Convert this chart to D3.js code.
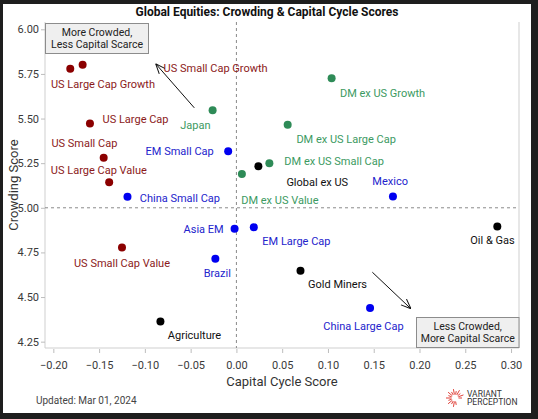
<!DOCTYPE html>
<html>
<head>
<meta charset="utf-8">
<script src="https://cdn.jsdelivr.net/npm/d3@7"></script>
<style>
  html, body { margin: 0; padding: 0; background: #1e1e1e; }
  svg { display: block; font-family: Roboto, "Noto Sans", sans-serif; }
</style>
</head>
<body>
<svg id="chart" width="538" height="419"></svg>
<script>
// ---- data ----
const names = ["US Small Cap Growth", "US Large Cap Growth", "US Large Cap", "US Small Cap", "US Large Cap Value",
  "US Small Cap Value", "Japan", "DM ex US Growth", "DM ex US Large Cap", "DM ex US Small Cap", "DM ex US Value",
  "Global ex US", "EM Small Cap", "China Small Cap", "Mexico", "Asia EM", "EM Large Cap", "Brazil",
  "China Large Cap", "Oil & Gas", "Gold Miners", "Agriculture"];
const capitalCycle = [-0.168, -0.1815, -0.160, -0.145, -0.139, -0.125, -0.026, 0.104, 0.056, 0.036, 0.006,
  0.024, -0.009, -0.119, 0.171, -0.002, 0.019, -0.023, 0.146, 0.285, 0.070, -0.083];
const crowding = [5.801, 5.779, 5.472, 5.280, 5.143, 4.778, 5.547, 5.726, 5.465, 5.250, 5.190,
  5.233, 5.317, 5.062, 5.063, 4.882, 4.891, 4.714, 4.438, 4.895, 4.647, 4.363];
const groups = ["US", "US", "US", "US", "US", "US", "DM", "DM", "DM", "DM", "DM",
  "Global", "EM", "EM", "EM", "EM", "EM", "EM", "EM", "Sector", "Sector", "Sector"];
const xTicks = [-0.20, -0.15, -0.10, -0.05, 0.00, 0.05, 0.10, 0.15, 0.20, 0.25, 0.30];
const yTicks = [4.25, 4.50, 4.75, 5.00, 5.25, 5.50, 5.75, 6.00];

// ---- label placement (pixel offsets from point) ----
const labelOffsets = {
  "US Small Cap Growth": [81, 3.4], "US Large Cap Growth": [-19.3, 15], "US Large Cap": [12.6, -4.7],
  "US Small Cap": [-52.3, -15], "US Large Cap Value": [-58.3, -12.4], "US Small Cap Value": [-48, 15.7],
  "Japan": [-32.3, 15], "DM ex US Growth": [8.3, 14.6], "DM ex US Large Cap": [8.7, 14.7],
  "DM ex US Small Cap": [15, -1.7], "DM ex US Value": [-0.7, 26.7], "Global ex US": [28, 16],
  "EM Small Cap": [-82.6, 0.3], "China Small Cap": [12.3, 1.7], "Mexico": [-20.6, -15],
  "Asia EM": [-51, 0], "EM Large Cap": [8.5, 14], "Brazil": [-11.6, 14.4], "China Large Cap": [-46.7, 18.3],
  "Oil & Gas": [-27, 14], "Gold Miners": [7.6, 13.7], "Agriculture": [7.4, 14]
};
const dotColor = { US: "#8b0000", DM: "#2e8b57", EM: "#0000f0", Global: "#000000", Sector: "#000000" };
const textColor = { US: "#8b1a1a", DM: "#3c9a62", EM: "#2323cc", Global: "#111111", Sector: "#111111" };

const svg = d3.select("#chart");
svg.append("rect").attr("x", 3).attr("y", 4).attr("width", 528).attr("height", 409).attr("fill", "#fff");

const L = 45, R = 519, T = 22, B = 348;
const x = d3.scaleLinear().domain([-0.2091, 0.3087]).range([L, R]);
const y = d3.scaleLinear().domain([4.2145, 6.0409]).range([B, T]);

// panel borders (left, bottom, right)
svg.append("path").attr("d", `M${L},${T}V${B}H${R}V${T}`).attr("fill", "none").attr("stroke", "#cfcfcf").attr("stroke-width", 1);

// axes
const xAxis = svg.append("g").attr("transform", `translate(0,${B + 1})`)
  .call(d3.axisBottom(x).tickValues(xTicks).tickFormat(d3.format(".2f")).tickSize(4).tickSizeOuter(0));
const yAxis = svg.append("g").attr("transform", `translate(${L},0)`)
  .call(d3.axisLeft(y).tickValues(yTicks).tickFormat(d3.format(".2f")).tickSize(4).tickSizeOuter(0));
[xAxis, yAxis].forEach(g => {
  g.select(".domain").remove();
  g.selectAll(".tick line").attr("stroke", "#bdbdbd");
  g.selectAll(".tick text").attr("fill", "#3a3a3a").attr("font-size", 11).attr("font-family", "Roboto, sans-serif");
});
xAxis.selectAll(".tick text").attr("dy", "1.15em");
yAxis.selectAll(".tick text").attr("x", -6);

// reference lines
svg.append("line").attr("x1", x(0)).attr("x2", x(0)).attr("y1", T).attr("y2", B)
  .attr("stroke", "#8a8a8a").attr("stroke-dasharray", "3,3");
svg.append("line").attr("x1", L).attr("x2", R).attr("y1", y(5)).attr("y2", y(5))
  .attr("stroke", "#8a8a8a").attr("stroke-dasharray", "3,3");

// arrows
const defs = svg.append("defs");
defs.append("marker").attr("id", "ah").attr("viewBox", "0 0 10 10").attr("refX", 10).attr("refY", 5)
  .attr("markerWidth", 10).attr("markerHeight", 10).attr("markerUnits", "userSpaceOnUse").attr("orient", "auto")
  .append("path").attr("d", "M0,1 L10,5 L0,9").attr("fill", "none").attr("stroke", "#111").attr("stroke-width", 1);
const arrows = [[-0.046, 5.560, -0.0882, 5.807], [0.1485, 4.639, 0.1907, 4.434]];
arrows.forEach(a => {
  svg.append("line").attr("x1", x(a[0])).attr("y1", y(a[1])).attr("x2", x(a[2])).attr("y2", y(a[3]))
    .attr("stroke", "#111").attr("stroke-width", 1).attr("marker-end", "url(#ah)");
});

// quadrant boxes
function qbox(bx, by, w, h, lines) {
  svg.append("rect").attr("x", bx).attr("y", by).attr("width", w).attr("height", h)
    .attr("fill", "#efefef").attr("stroke", "#8c8c8c").attr("stroke-width", 1);
  lines.forEach((t, i) => {
    svg.append("text").attr("x", bx + w / 2).attr("y", by + 9 + i * 12).attr("dy", "0.35em")
      .attr("text-anchor", "middle").attr("font-size", 10.5).attr("fill", "#222").text(t);
  });
}
qbox(L + 0.5, T + 1.5, 103, 30, ["More Crowded,", "Less Capital Scarce"]);
qbox(416.5, 317.5, 102.5, 30, ["Less Crowded,", "More Capital Scarce"]);

// points
const pts = names.map((n, i) => ({ name: n, cx: capitalCycle[i], cy: crowding[i], g: groups[i] }));
svg.append("g").selectAll("circle").data(pts).join("circle")
  .attr("cx", d => x(d.cx)).attr("cy", d => y(d.cy)).attr("r", 4)
  .attr("fill", d => dotColor[d.g]);
svg.append("g").selectAll("text").data(pts).join("text")
  .attr("x", d => x(d.cx) + labelOffsets[d.name][0])
  .attr("y", d => y(d.cy) + labelOffsets[d.name][1])
  .attr("dy", "0.35em").attr("font-size", 11).attr("fill", d => textColor[d.g]).text(d => d.name);

// titles
svg.append("text").attr("x", 267).attr("y", 12).attr("dy", "0.35em").attr("text-anchor", "middle")
  .attr("font-size", 12).attr("font-weight", "bold").attr("fill", "#111")
  .text("Global Equities: Crowding & Capital Cycle Scores");
svg.append("text").attr("x", (L + R) / 2).attr("y", 381).attr("dy", "0.35em").attr("text-anchor", "middle")
  .attr("font-size", 13).attr("fill", "#333").text("Capital Cycle Score");
svg.append("text").attr("transform", `translate(13,${(T + B) / 2}) rotate(-90)`).attr("dy", "0.35em")
  .attr("text-anchor", "middle").attr("font-size", 13).attr("fill", "#333").text("Crowding Score");
svg.append("text").attr("x", 36).attr("y", 400).attr("dy", "0.35em")
  .attr("font-size", 10).attr("fill", "#444").text("Updated: Mar 01, 2024");

// logo
const logo = svg.append("g").attr("transform", "translate(455,398)");
d3.range(18).forEach(i => {
  const a = i / 18 * 2 * Math.PI;
  if (i >= 1 && i <= 3) return;
  logo.append("line").attr("x1", Math.cos(a) * 3.5).attr("y1", Math.sin(a) * 3.5)
    .attr("x2", Math.cos(a) * (7 + (i % 2) * 2)).attr("y2", Math.sin(a) * (7 + (i % 2) * 2))
    .attr("stroke", "#e0413a").attr("stroke-width", 1);
});
svg.append("text").attr("x", 467).attr("y", 394).attr("dy", "0.35em").attr("font-size", 8.5).attr("fill", "#333").text("VARIANT");
svg.append("text").attr("x", 467).attr("y", 402.5).attr("dy", "0.35em").attr("font-size", 8.5).attr("fill", "#333").text("PERCEPTION");
</script>
</body>
</html>
